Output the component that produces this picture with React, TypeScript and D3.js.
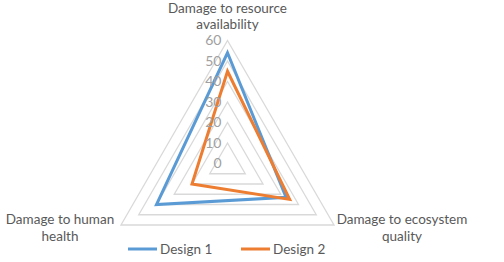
import React from 'react';
import * as d3 from 'd3';

const axes = ['Damage to resource availability', 'Damage to ecosystem quality', 'Damage to human health'];
const design1 = [54, 33, 40];
const design2 = [45, 35, 20];
const ticks = [0, 10, 20, 30, 40, 50, 60];
const seriesNames = ['Design 1', 'Design 2'];
const seriesColors = ['#5b9bd5', '#ed7d31'];

const W = 504;
const H = 262;
const cx = 227.5;
const cy = 163.5;
const font = 'Lato, Calibri, sans-serif';

export default function App() {
  const r = d3.scaleLinear().domain([0, 60]).range([0, 123]);
  const angle = d3.scaleLinear().domain([0, axes.length]).range([0, 2 * Math.PI]);

  const radial = d3.lineRadial<number>()
    .angle((d, i) => angle(i))
    .radius(d => r(d))
    .curve(d3.curveLinearClosed);

  const rings = ticks.filter(t => t > 0).map(t => radial(axes.map(() => t)));
  const series = [design1, design2];

  // axis label positions (hand placed, like excel does)
  const labelPos = [
    { x: cx, y: 10, dy: 16 },
    { x: 402, y: 221, dy: 17 },
    { x: 60, y: 221, dy: 17 },
  ];
  const labelLines = [
    ['Damage to resource', 'availability'],
    ['Damage to ecosystem', 'quality'],
    ['Damage to human', 'health'],
  ];

  return (
    <svg width={W} height={H} style={{ position: 'absolute', left: 0, top: 0, background: '#fff' }}>
      <g transform={`translate(${cx},${cy})`}>
        {/* grid */}
        {rings.map((d, i) => (
          <path key={i} d={d || ''} fill='none' stroke='#d9d9d9' strokeWidth={1.3} />
        ))}
        {/* series */}
        {series.map((s, i) => (
          <path key={i} d={radial(s) || ''} fill='none' stroke={seriesColors[i]}
            strokeWidth={3} strokeLinejoin='miter' />
        ))}
        {/* tick labels */}
        {ticks.map(t => (
          <text key={t} x={-6} y={-r(t)} dy='0.35em' textAnchor='end'
            fontFamily={font} fontSize={14} fill='#a0a0a0'>{t}</text>
        ))}
      </g>

      {labelLines.map((lines, i) => (
        <text key={i} x={labelPos[i].x} y={labelPos[i].y} textAnchor='middle'
          dominantBaseline='middle' fontFamily={font} fontSize={13.5} fill='#595959'>
          {lines.map((l, j) => (
            <tspan key={j} x={labelPos[i].x} dy={j === 0 ? 0 : labelPos[i].dy}>{l}</tspan>
          ))}
        </text>
      ))}

      {/* legend */}
      {seriesNames.map((n, i) => (
        <g key={n} transform={`translate(${128 + i * 113},249)`}>
          <line x1={0} x2={29} y1={0} y2={0} stroke={seriesColors[i]} strokeWidth={3} />
          <text x={32} y={0} dy='0.35em' fontFamily={font} fontSize={13.5} fill='#595959'>{n}</text>
        </g>
      ))}
    </svg>
  );
}
